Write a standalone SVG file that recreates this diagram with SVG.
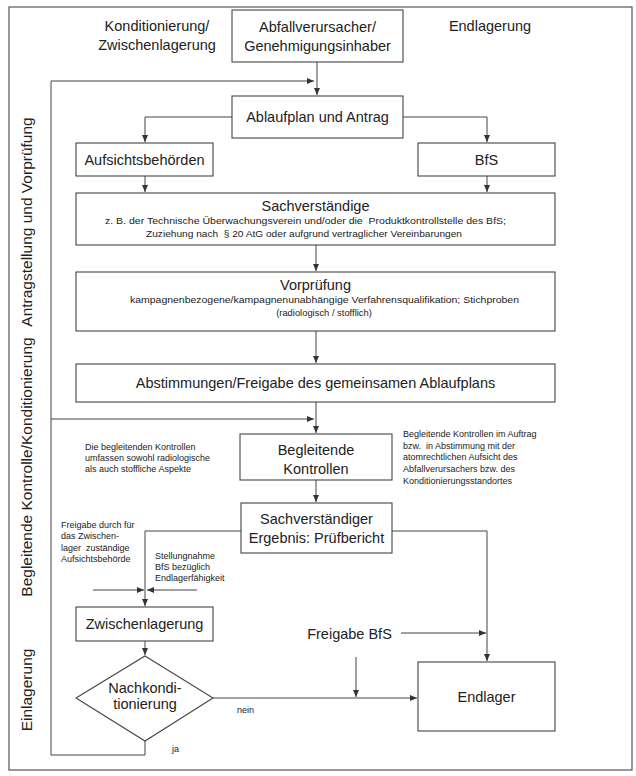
<svg xmlns="http://www.w3.org/2000/svg" width="636" height="776" viewBox="0 0 636 776">
<style>
text{font-family:"Liberation Sans",Arial,sans-serif;fill:#222}
.t{font-size:14.5px;text-anchor:middle}
.s{font-size:9px}
.m{font-size:9.4px;text-anchor:middle}
.v{font-size:15.5px;text-anchor:middle}
.b{fill:#fff;stroke:#444;stroke-width:1.1}
.c{fill:none;stroke:#444;stroke-width:1}
</style>
<defs>
<marker id="a" markerWidth="8" markerHeight="6" refX="7" refY="3" orient="auto" markerUnits="userSpaceOnUse">
<path d="M0,0 L7,3 L0,6 z" fill="#333"/>
</marker>
</defs>
<rect x="0" y="0" width="636" height="776" fill="#fff"/>
<rect x="9" y="7" width="623" height="763" fill="none" stroke="#555" stroke-width="1.2"/>

<g id="labels">
<text class="t" x="157" y="31">Konditionierung/</text>
<text class="t" x="157" y="50">Zwischenlagerung</text>
<text class="t" x="490" y="31">Endlagerung</text>
<text class="v" transform="translate(32,222) rotate(-90)">Antragstellung und Vorprüfung</text>
<text class="v" transform="translate(32,467) rotate(-90)">Begleitende Kontrolle/Konditionierung</text>
<text class="v" transform="translate(32,690) rotate(-90)">Einlagerung</text>
</g>

<g id="connectors">
<path class="c" d="M317,62 V95" marker-end="url(#a)"/>
<path class="c" d="M145,741 V755 H51 V81 H314" marker-end="url(#a)"/>
<path class="c" d="M51,419 H314" marker-end="url(#a)"/>
<path class="c" d="M232,117 H145 V142" marker-end="url(#a)"/>
<path class="c" d="M403,117 H487 V142" marker-end="url(#a)"/>
<path class="c" d="M145,176 V192" marker-end="url(#a)"/>
<path class="c" d="M487,176 V192" marker-end="url(#a)"/>
<path class="c" d="M316,245 V271" marker-end="url(#a)"/>
<path class="c" d="M316,331 V363" marker-end="url(#a)"/>
<path class="c" d="M316,402 V433" marker-end="url(#a)"/>
<path class="c" d="M316,480 V502" marker-end="url(#a)"/>
<path class="c" d="M241,531 H145 V606" marker-end="url(#a)"/>
<path class="c" d="M392,531 H487 V661" marker-end="url(#a)"/>
<path class="c" d="M93,590 H144" marker-end="url(#a)"/>
<path class="c" d="M197,590 H147" marker-end="url(#a)"/>
<path class="c" d="M145,641 V655" marker-end="url(#a)"/>
<path class="c" d="M213,698 H417" marker-end="url(#a)"/>
<path class="c" d="M356,657 V697" marker-end="url(#a)"/>
<path class="c" d="M401,633 H486" marker-end="url(#a)"/>
</g>

<g id="n_abfall">
<rect class="b" x="232" y="10" width="171" height="52"/>
<text class="t" x="317.5" y="32">Abfallverursacher/</text>
<text class="t" x="317.5" y="51">Genehmigungsinhaber</text>
</g>

<g id="n_ablaufplan">
<rect class="b" x="232" y="96" width="171" height="42"/>
<text class="t" x="317.5" y="122">Ablaufplan und Antrag</text>
</g>

<g id="n_aufsicht">
<rect class="b" x="76" y="143" width="137" height="33"/>
<text class="t" x="144.5" y="165">Aufsichtsbehörden</text>
</g>

<g id="n_bfs">
<rect class="b" x="418" y="143" width="137" height="33"/>
<text class="t" x="486.5" y="165">BfS</text>
</g>

<g id="n_sachverstaendige">
<rect class="b" x="76" y="193" width="479" height="52"/>
<text class="t" x="315.5" y="211">Sachverständige</text>
<text class="s" x="105" y="224" textLength="401" lengthAdjust="spacingAndGlyphs">z. B. der Technische Überwachungsverein und/oder die&#160; Produktkontrollstelle des BfS;</text>
<text class="s" x="146" y="237" textLength="316" lengthAdjust="spacingAndGlyphs">Zuziehung nach&#160; § 20 AtG oder aufgrund vertraglicher Vereinbarungen</text>
</g>

<g id="n_vorpruefung">
<rect class="b" x="76" y="272" width="479" height="59"/>
<text class="t" x="315.5" y="290">Vorprüfung</text>
<text class="s" x="130" y="303" textLength="389" lengthAdjust="spacingAndGlyphs">kampagnenbezogene/kampagnenunabhängige Verfahrensqualifikation; Stichproben</text>
<text class="m" x="324" y="316">(radiologisch / stofflich)</text>
</g>

<g id="n_abstimmungen">
<rect class="b" x="76" y="364" width="479" height="38"/>
<text class="t" x="315.5" y="388">Abstimmungen/Freigabe des gemeinsamen Ablaufplans</text>
</g>

<g id="n_begleitende">
<rect class="b" x="240" y="434" width="152" height="46"/>
<text class="t" x="316" y="455">Begleitende</text>
<text class="t" x="316" y="474">Kontrollen</text>
</g>

<g id="note_left">
<text class="s" x="85" y="450">Die begleitenden Kontrollen</text>
<text class="s" x="85" y="461">umfassen sowohl radiologische</text>
<text class="s" x="85" y="472">als auch stoffliche Aspekte</text>
</g>

<g id="note_right">
<text class="s" x="403" y="437">Begleitende Kontrollen im Auftrag</text>
<text class="s" x="403" y="449">bzw.&#160; in Abstimmung mit der</text>
<text class="s" x="403" y="460">atomrechtlichen Aufsicht des</text>
<text class="s" x="403" y="472">Abfallverursachers bzw. des</text>
<text class="s" x="403" y="484">Konditionierungsstandortes</text>
</g>

<g id="n_sachverstaendiger">
<rect class="b" x="241" y="503" width="151" height="50"/>
<text class="t" x="316.5" y="524">Sachverständiger</text>
<text class="t" x="316.5" y="543">Ergebnis: Prüfbericht</text>
</g>

<g id="note_freigabe">
<text class="s" x="61" y="528">Freigabe durch für</text>
<text class="s" x="61" y="539">das Zwischen-</text>
<text class="s" x="61" y="551">lager&#160; zuständige</text>
<text class="s" x="61" y="562">Aufsichtsbehörde</text>
</g>

<g id="note_stellungnahme">
<text class="s" x="155" y="559">Stellungnahme</text>
<text class="s" x="155" y="570">BfS bezüglich</text>
<text class="s" x="155" y="581">Endlagerfähigkeit</text>
</g>

<g id="n_zwischenlagerung">
<rect class="b" x="76" y="607" width="137" height="34"/>
<text class="t" x="144.5" y="629">Zwischenlagerung</text>
</g>

<g id="n_nachkonditionierung">
<polygon class="b" points="145,656 213,698 145,741 76,698"/>
<text class="t" x="145" y="693">Nachkondi-</text>
<text class="t" x="145" y="709">tionierung</text>
</g>

<g id="n_endlager">
<rect class="b" x="418" y="662" width="137" height="69"/>
<text class="t" x="486.5" y="702">Endlager</text>
</g>

<g id="edge_labels">
<text class="t" x="349.5" y="639">Freigabe BfS</text>
<text class="s" x="237" y="713">nein</text>
<text class="s" x="172" y="752">ja</text>
</g>
</svg>
